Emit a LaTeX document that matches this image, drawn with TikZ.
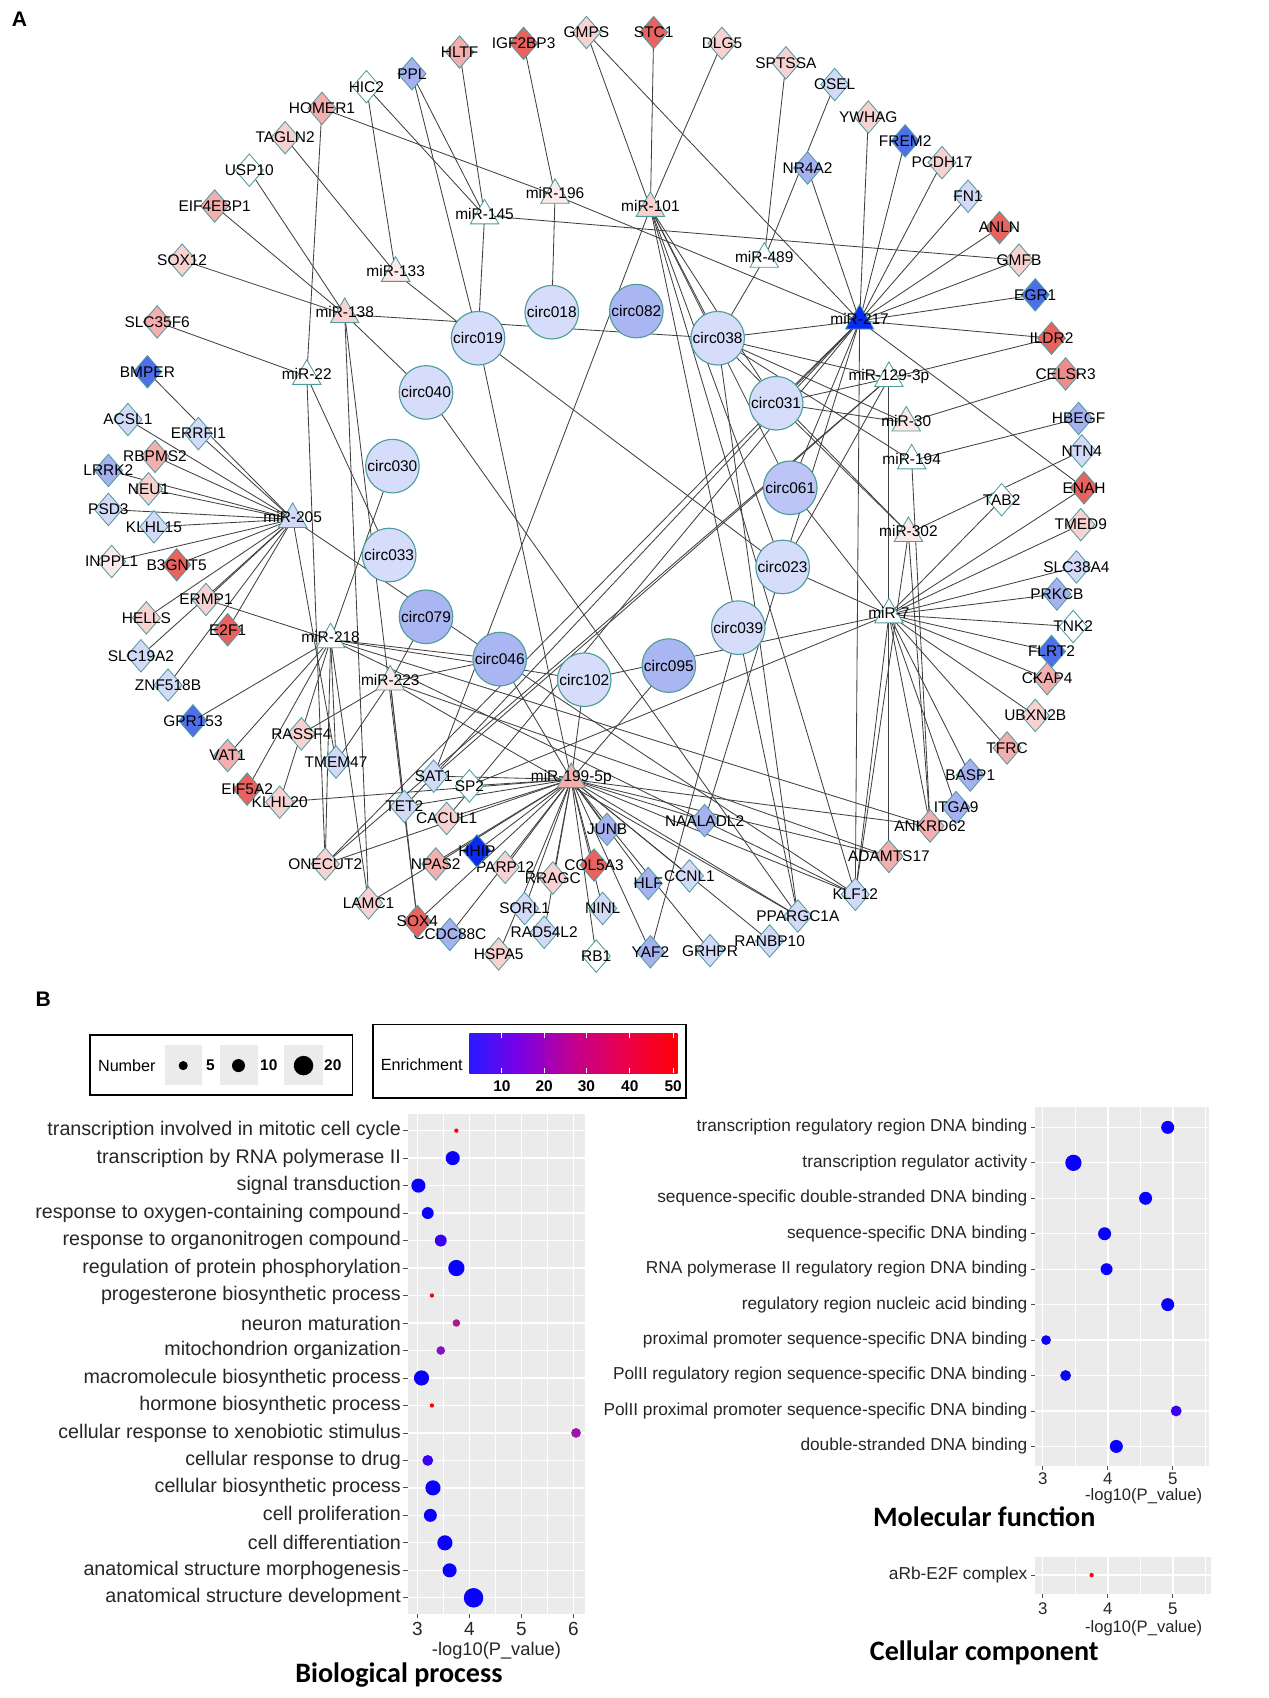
\documentclass[tikz,border=0pt]{standalone}
\usepackage{fontspec}
\setmainfont{Liberation Sans}
\newfontfamily\titlefont{Carlito}
\usetikzlibrary{shapes.geometric}
\usetikzlibrary{positioning}
\pgfdeclarelayer{background}
\pgfsetlayers{background,main}
\def\un{0.0271cm}
\definecolor{nborder}{HTML}{4F9C9E}
\definecolor{rd}{HTML}{E8625F}
\definecolor{pr}{HTML}{EE8C8A}
\definecolor{pk}{HTML}{F3AEAD}
\definecolor{lp}{HTML}{F8D2D1}
\definecolor{vp}{HTML}{FBEAE9}
\definecolor{wh}{HTML}{FFFFFF}
\definecolor{lb}{HTML}{D3DAF8}
\definecolor{mb}{HTML}{A6B2F0}
\definecolor{db}{HTML}{4F6FEA}
\definecolor{sb}{HTML}{0A2AF2}
\definecolor{cl}{HTML}{D6DDFA}
\definecolor{cm}{HTML}{AAB6F1}
\definecolor{cm2}{HTML}{BCC5F5}
\definecolor{panelbg}{HTML}{EBEBEB}
\definecolor{dblue}{HTML}{0A00FF}
\definecolor{dblue2}{HTML}{3A00F2}
\definecolor{dpur}{HTML}{8A12C4}
\definecolor{dpur2}{HTML}{9A16A8}
\definecolor{dmag}{HTML}{B0168E}
\definecolor{dred}{HTML}{FF0000}
\pgfdeclarehorizontalshading{enrich}{100bp}{rgb(0bp)=(0.16,0.1,1); rgb(25bp)=(0.16,0.1,1); rgb(37bp)=(0.48,0,0.9); rgb(50bp)=(0.76,0,0.56); rgb(62bp)=(0.92,0,0.3); rgb(75bp)=(1,0,0.02); rgb(100bp)=(1,0,0.02)}
\tikzset{gene/.style = {diamond, draw=nborder, line width=0.6pt, inner sep=0pt,
                        minimum width=0.71cm, minimum height=0.82cm},
         mir/.style = {regular polygon, regular polygon sides=3, draw=nborder,
                       line width=0.6pt, inner sep=0pt, minimum size=0.82cm},
         circ/.style = {circle, draw=nborder, line width=0.8pt, inner sep=0pt,
                        minimum size=1.34cm},
         nlbl/.style = {font=\fontsize{11}{12}\selectfont, inner sep=0pt},
         edge/.style = {draw=black!75, line width=0.6pt},
         bplbl/.style = {anchor=east, inner sep=0pt, font=\fontsize{14}{16}\selectfont, text=black!85},
         mflbl/.style = {anchor=east, inner sep=0pt, font=\fontsize{12.3}{14}\selectfont, text=black!85},
         ticklbl/.style = {inner sep=0pt, font=\fontsize{13.5}{15}\selectfont, text=black!85},
         axtitle/.style = {inner sep=0pt, text=black!85},
         ptitle/.style = {inner sep=0pt, font=\titlefont\bfseries\fontsize{20}{22}\selectfont},
         gridmaj/.style = {draw=white, line width=0.9pt},
         gridmin/.style = {draw=white, line width=0.4pt},
         tickmark/.style = {draw=black!70, line width=0.6pt},
         legbox/.style = {draw=black, line width=1.1pt},
         leglbl/.style = {inner sep=0pt, font=\fontsize{11.5}{13}\selectfont},
         legnum/.style = {inner sep=0pt, font=\bfseries\fontsize{11}{13}\selectfont}}

\begin{document}
\begin{tikzpicture}[x=0.0271cm, y=-0.0271cm]
      \useasboundingbox (0,0) rectangle (1170.6,1566.4);
      \node[font=\bfseries\fontsize{15}{17}\selectfont] (lblA) at (18,18) {A};
      \node[font=\bfseries\fontsize{15}{17}\selectfont] (lblB) at (40,922) {B};
      % genes
      \foreach \n/\x/\y/\c in {HIC2/338/80/wh, PPL/380/68/mb, HLTF/424/48/pk, IGF2BP3/483/40/rd,
          GMPS/541/30/lp, STC1/603/30/rd, DLG5/666/40/lp, SPTSSA/725/58/lp, OSEL/770/78/lb,
          NR4A2/745/155/mb, YWHAG/801/108/lp, FREM2/835/130/db, PCDH17/869/150/lp, FN1/893/181/lb,
          ANLN/922/210/rd, GMFB/940/240/lp, EGR1/955/272/db, ILDR2/970/312/rd, CELSR3/983/345/pr,
          HBEGF/995/386/mb, NTN4/998/416/lb, ENAH/1000/450/rd, TAB2/924/461/wh, TMED9/997/484/lp,
          SLC38A4/993/523/lb, PRKCB/975/548/mb, TNK2/990/578/wh, FLRT2/970/601/db, CKAP4/966/626/pk,
          UBXN2B/955/660/lp, TFRC/929/690/pk, BASP1/895/715/mb, ITGA9/882/745/mb, ANKRD62/858/762/pk,
          ADAMTS17/820/790/pk, KLF12/789/825/lb, PPARGC1A/736/845/lb, RANBP10/710/868/lb,
          GRHPR/655/877/lb, YAF2/600/878/mb, RB1/550/882/wh, HSPA5/460/880/lp, CCDC88C/415/862/mb,
          SOX4/385/850/rd, RAD54L2/502/860/lb, SORL1/484/838/lb, NINL/556/838/lb, HLF/598/815/mb,
          CCNL1/636/808/lb, COL5A3/548/798/rd, RRAGC/510/810/lp, PARP12/466/800/lp, HHIP/440/785/sb,
          NPAS2/402/797/pk, JUNB/560/765/mb, NAALADL2/650/757/mb, LAMC1/340/833/lp, ONECUT2/300/797/lp,
          CACUL1/412/755/lp, TET2/373/744/lb, SP2/433/725/wh, SAT1/400/716/lb, TMEM47/310/703/lb,
          KLHL20/258/740/lp, RASSF4/278/677/lp, EIF5A2/228/728/rd, VAT1/210/697/pk, GPR153/178/665/db,
          ZNF518B/155/632/lb, SLC19A2/130/605/lb, E2F1/210/581/rd, HELLS/135/570/lp, ERMP1/190/553/lp,
          INPPL1/103/518/vp, B3GNT5/163/521/rd, KLHL15/142/486/lb, PSD3/100/470/lb, NEU1/137/451/lp,
          LRRK2/100/434/mb, RBPMS2/143/421/pk, ACSL1/118/387/lb, ERRFI1/183/400/lb, BMPER/136/343/db,
          SLC35F6/145/297/pk, SOX12/168/240/lp, EIF4EBP1/198/190/pk, USP10/230/157/wh,
          TAGLN2/263/127/lp, HOMER1/297/100/pk}
        \node[gene, fill=\c, label={[nlbl]center:\n}] (\n) at (\x,\y) {};
      % miRNAs
      \foreach \n/\x/\y/\t/\c in {m196/512/180/miR-196/vp, m145/447/199/miR-145/wh, m101/600/192/miR-101/lp,
          m133/365/252/miR-133/vp, m138/318/290/miR-138/lp, m22/283/347/miR-22/wh, m489/705/239/miR-489/wh,
          m217/793/296/miR-217/sb, m1293p/820/349/miR-129-3p/wh, m30/836/390/miR-30/vp,
          m194/841/425/miR-194/wh, m302/838/492/miR-302/vp, m7/820/567/miR-7/wh, m205/270/479/miR-205/lb,
          m218/305/590/miR-218/wh, m223/360/629/miR-223/vp, m1995p/527/719/miR-199-5p/pk}
        \node[mir, fill=\c, label={[nlbl, yshift=1.5pt]center:\t}] (\n) at (\x,\y) {};
      % circRNAs
      \foreach \n/\x/\y/\c in {019/441/312/cl, 018/509/288/cl, 082/587/287/cm, 038/662/312/cl,
          040/393/362/cl, 031/716/372/cl, 030/362/430/cl, 061/729/450/cm2, 033/359/512/cl,
          023/722/523/cl, 079/393/569/cm, 039/681/579/cl, 046/461/608/cm, 095/617/614/cm,
          102/539/627/cl}
        \node[circ, fill=\c, nlbl] (c\n) at (\x,\y) {circ\n};
      \begin{pgfonlayer}{background}
      \foreach \a/\b in {HOMER1/m196, HOMER1/m22, TAGLN2/m133, USP10/m138, EIF4EBP1/m138, SOX12/m138,
          SLC35F6/m22, BMPER/m205, HIC2/m133, HIC2/m145, PPL/m145, PPL/c019, HLTF/m145, IGF2BP3/m196,
          GMPS/m101, GMPS/m217, STC1/m101, DLG5/m101, SPTSSA/m489, OSEL/m489, NR4A2/m217, YWHAG/m217,
          FREM2/m217, PCDH17/m217, FN1/m217, ANLN/m217, GMFB/m217, GMFB/m145, EGR1/m217, ILDR2/m217,
          ILDR2/m1293p, CELSR3/m30, HBEGF/m194, NTN4/m302, ENAH/m217, ENAH/m7, TMED9/m7, SLC38A4/m7,
          PRKCB/m7, TNK2/m7, FLRT2/m7, CKAP4/m7, UBXN2B/m7, TFRC/m7, BASP1/m7, ITGA9/m7, TAB2/m7,
          ANKRD62/m7, ANKRD62/m302, ANKRD62/m194, ANKRD62/m218, ANKRD62/m1995p, ADAMTS17/m1293p,
          ADAMTS17/m223, ADAMTS17/m1995p, KLF12/m217, KLF12/m7, KLF12/m101, KLF12/m218, KLF12/c046,
          KLF12/m1995p, KLF12/m302, PPARGC1A/m101, PPARGC1A/m223, PPARGC1A/c040, PPARGC1A/m1995p,
          PPARGC1A/c038, RANBP10/m1995p, GRHPR/m1995p, YAF2/m1995p, YAF2/c039, RB1/m1995p,
          HSPA5/m1995p, CCDC88C/m1995p, SOX4/m1995p, SOX4/m223, SOX4/m138, RAD54L2/m1995p,
          SORL1/m1995p, NINL/m1995p, HLF/m1995p, CCNL1/m1995p, COL5A3/m1995p, RRAGC/m1995p,
          PARP12/m1995p, HHIP/m1995p, NPAS2/m1995p, JUNB/m1995p, NAALADL2/m1995p, NAALADL2/c023,
          LAMC1/m138, LAMC1/m218, LAMC1/m1995p, ONECUT2/m218, ONECUT2/m22, ONECUT2/m1995p,
          ONECUT2/m217, ONECUT2/m1293p, CACUL1/m1995p, CACUL1/m217, TET2/m1995p, TET2/m217,
          TET2/m223, SP2/m1995p, SP2/m7, SAT1/m1995p, SAT1/m101, SAT1/m1293p, TMEM47/m218,
          TMEM47/m223, TMEM47/m205, KLHL20/m218, KLHL20/m1995p, RASSF4/m223, EIF5A2/m218, VAT1/m218,
          GPR153/m218, ZNF518B/m205, SLC19A2/m205, E2F1/m205, HELLS/m205, ERMP1/m205, ERMP1/m218,
          INPPL1/m205, B3GNT5/m205, KLHL15/m205, PSD3/m205, NEU1/m205, LRRK2/m205, RBPMS2/m205,
          ACSL1/m205, ERRFI1/m205, m205/c046, m22/c033, m138/c038, m138/c040, m133/c019, m145/c019,
          m196/c018, m196/m217, m101/c038, m101/c031, m101/c061, m101/c023, m489/c038, m217/c038,
          m217/c031, m217/c061, m217/c023, m1293p/c038, m1293p/c031, m1293p/c023, m30/c038, m30/c031,
          m194/c038, m302/c031, m302/c038, m7/c023, m7/c061, m7/c102, m218/c030, m218/c046,
          m218/c102, m223/c046, m223/c079, m1995p/c019, m1995p/c046, m1995p/c102, m1995p/c095,
          c019/c023}
        \draw[edge] (\a.center) -- (\b.center);
      \end{pgfonlayer}
      % legends
      \draw[legbox] (83,955) rectangle (325,1010);
      \node[leglbl] (numtitle) at (117,983) {Number};
      \fill[panelbg] (152,964) rectangle (186,1001);
      \fill[panelbg] (203,964) rectangle (238,1001);
      \fill[panelbg] (262,964) rectangle (298,1001);
      \fill (169,983) circle[radius=4.2*\un];
      \fill (220,983) circle[radius=6*\un];
      \fill (280,983) circle[radius=9*\un];
      \node[legnum] (num5) at (194,983) {5};
      \node[legnum] (num10) at (248,983) {10};
      \node[legnum] (num20) at (307,983) {20};
      \draw[legbox] (344,945) rectangle (633,1013);
      \node[leglbl] (enrtitle) at (389,982) {Enrichment};
      \shade[shading=enrich] (433,953) rectangle (625,990);
      \foreach \v/\x in {10/463, 20/502, 30/541, 40/581, 50/621} {
        \draw[white, line width=0.6pt] (\x,953) -- (\x,958);
        \draw[white, line width=0.6pt] (\x,985) -- (\x,990);
        \node[legnum] (enr\v) at (\x,1002) {\v};
      }
      % biological process
      \fill[panelbg] (376,1028) rectangle (540,1489);
      \foreach \v in {3.5,4.5,5.5}
        \draw[gridmin] ({385+(\v-3)*48},1028) -- ({385+(\v-3)*48},1489);
      \foreach \v in {3,4,5,6} {
        \draw[gridmaj] ({385+(\v-3)*48},1028) -- ({385+(\v-3)*48},1489);
        \draw[tickmark] ({385+(\v-3)*48},1489) -- ({385+(\v-3)*48},1493);
        \node[ticklbl] (bpt\v) at ({385+(\v-3)*48},1503) {\v};
      }
      \foreach \t [count=\i from 0] in {transcription involved in mitotic cell cycle,
          transcription by RNA polymerase II, signal transduction, response to oxygen-containing compound,
          response to organonitrogen compound, regulation of protein phosphorylation,
          progesterone biosynthetic process, neuron maturation, mitochondrion organization,
          macromolecule biosynthetic process, hormone biosynthetic process,
          cellular response to xenobiotic stimulus, cellular response to drug,
          cellular biosynthetic process, cell proliferation, cell differentiation,
          anatomical structure morphogenesis, anatomical structure development} {
        \draw[gridmaj] (376,{1043+\i*25.35}) -- (540,{1043+\i*25.35});
        \draw[tickmark] (372,{1043+\i*25.35}) -- (376,{1043+\i*25.35});
        \node[bplbl] (bp\i) at (370,{1043+\i*25.35}) {\t};
      }
      \foreach \v/\r/\c [count=\i from 0] in {3.75/2/dred, 3.68/6.5/dblue, 3.02/6.5/dblue,
          3.2/5.5/dblue, 3.45/5.5/dblue2, 3.75/7.5/dblue, 3.28/2/dred, 3.75/3.5/dmag, 3.45/4/dpur,
          3.08/7/dblue, 3.28/2/dred, 6.05/4.5/dpur2, 3.2/5/dblue2, 3.3/7/dblue, 3.25/6/dblue,
          3.53/7/dblue, 3.62/6.5/dblue, 4.08/9/dblue}
        \fill[\c] ({385+(\v-3)*48},{1043+\i*25.35}) circle[radius=\r*\un];
      \node[axtitle, font=\fontsize{13}{15}\selectfont] (bpx) at (458,1523) {-log10(P\_value)};
      \node[ptitle] (bptitle) at (368,1545) {Biological process};
      % molecular function
      \fill[panelbg] (955,1021) rectangle (1115,1352);
      \foreach \v in {3.5,4.5,5.5}
        \draw[gridmin] ({962+(\v-3)*60},1021) -- ({962+(\v-3)*60},1352);
      \foreach \v in {3,4,5} {
        \draw[gridmaj] ({962+(\v-3)*60},1021) -- ({962+(\v-3)*60},1352);
        \draw[tickmark] ({962+(\v-3)*60},1352) -- ({962+(\v-3)*60},1356);
        \node[ticklbl, font=\fontsize{12}{14}\selectfont] (mft\v) at ({962+(\v-3)*60},1364) {\v};
      }
      \foreach \t [count=\i from 0] in {transcription regulatory region DNA binding,
          transcription regulator activity, sequence-specific double-stranded DNA binding,
          sequence-specific DNA binding, RNA polymerase II regulatory region DNA binding,
          regulatory region nucleic acid binding, proximal promoter sequence-specific DNA binding,
          PolII regulatory region sequence-specific DNA binding,
          PolII proximal promoter sequence-specific DNA binding, double-stranded DNA binding} {
        \draw[gridmaj] (955,{1040+\i*32.7}) -- (1115,{1040+\i*32.7});
        \draw[tickmark] (951,{1040+\i*32.7}) -- (955,{1040+\i*32.7});
        \node[mflbl] (mf\i) at (948,{1040+\i*32.7}) {\t};
      }
      \foreach \v/\r/\c [count=\i from 0] in {4.92/6/dblue, 3.47/7.5/dblue, 4.58/6/dblue,
          3.95/6/dblue, 3.98/5.5/dblue, 4.92/6/dblue, 3.05/4.5/dblue, 3.35/5/dblue,
          5.05/5/dblue2, 4.13/6/dblue}
        \fill[\c] ({962+(\v-3)*60},{1040+\i*32.7}) circle[radius=\r*\un];
      \node[axtitle, font=\fontsize{11.8}{14}\selectfont] (mfx) at (1055,1380) {-log10(P\_value)};
      \node[ptitle] (mftitle) at (908,1399) {Molecular function};
      % cellular component
      \fill[panelbg] (955,1436) rectangle (1117,1470);
      \foreach \v in {3.5,4.5,5.5}
        \draw[gridmin] ({962+(\v-3)*60},1436) -- ({962+(\v-3)*60},1470);
      \foreach \v in {3,4,5} {
        \draw[gridmaj] ({962+(\v-3)*60},1436) -- ({962+(\v-3)*60},1470);
        \draw[tickmark] ({962+(\v-3)*60},1470) -- ({962+(\v-3)*60},1474);
        \node[ticklbl, font=\fontsize{12}{14}\selectfont] (cct\v) at ({962+(\v-3)*60},1484) {\v};
      }
      \draw[gridmaj] (955,1453) -- (1117,1453);
      \draw[tickmark] (951,1453) -- (955,1453);
      \node[mflbl] (cc0) at (948,1453) {aRb-E2F complex};
      \fill[dred] ({962+(3.75-3)*60},1453) circle[radius=2*\un];
      \node[axtitle, font=\fontsize{11.8}{14}\selectfont] (ccx) at (1055,1502) {-log10(P\_value)};
      \node[ptitle] (cctitle) at (908,1525) {Cellular component};
    \end{tikzpicture}
\end{document}
